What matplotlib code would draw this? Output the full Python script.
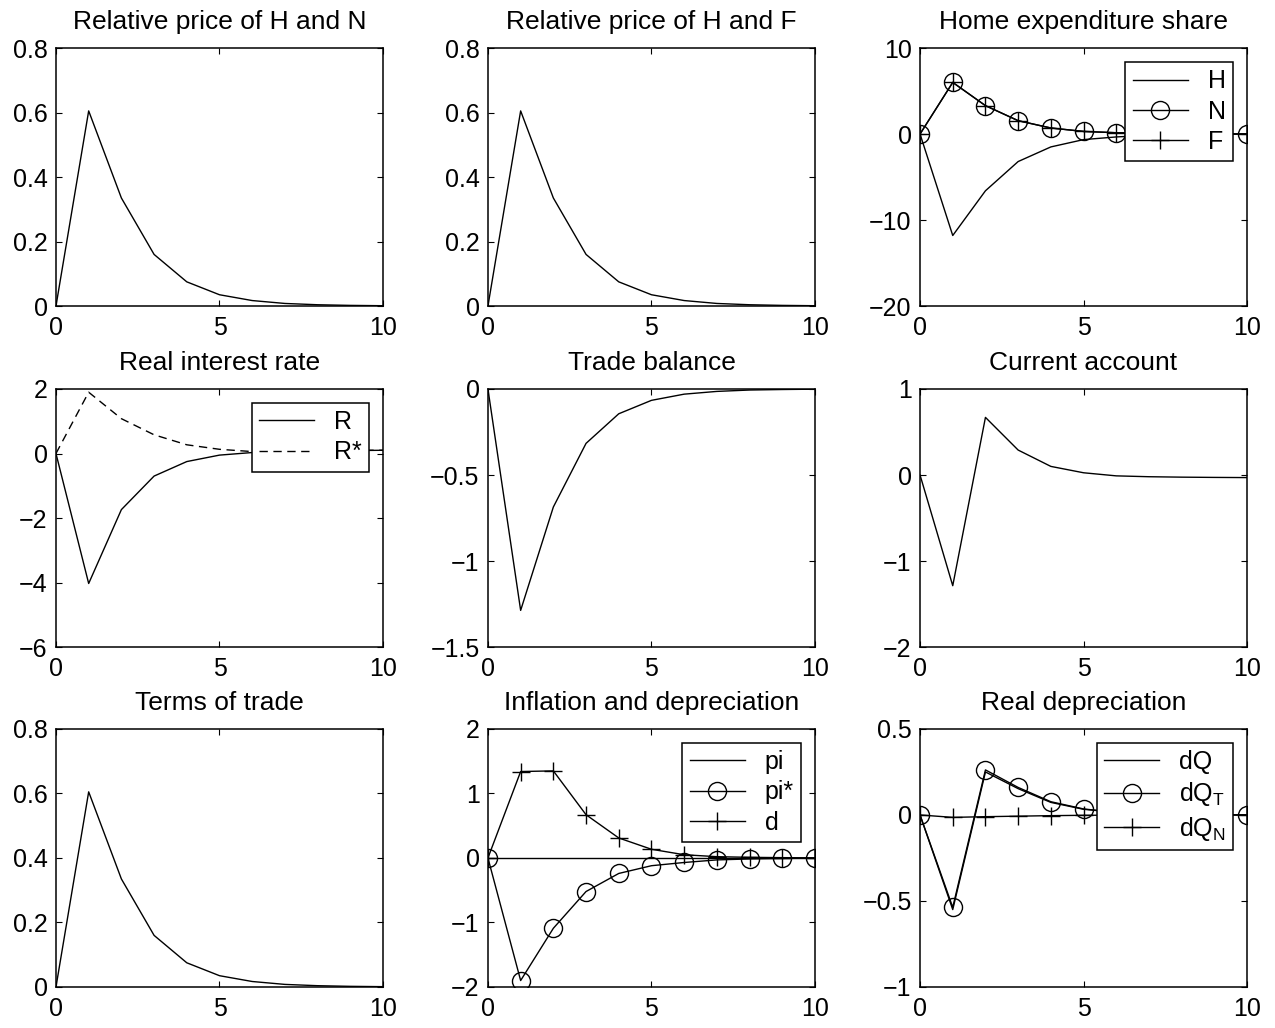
import numpy as np
import matplotlib
matplotlib.use("Agg")
import matplotlib.pyplot as plt

plt.rcParams['font.family'] = ['Liberation Sans', 'DejaVu Sans']
plt.rcParams['font.size'] = 18
plt.rcParams['mathtext.fontset'] = 'custom'
plt.rcParams['mathtext.rm'] = 'Liberation Sans'
plt.rcParams['mathtext.it'] = 'Liberation Sans'

# horizon
t = np.arange(11)

# relative prices / terms of trade (same response)
rel_price = [0, 0.605, 0.335, 0.16, 0.075, 0.035, 0.017, 0.008, 0.004, 0.002, 0.001]

# home expenditure share
share_H = [0, -11.8, -6.6, -3.2, -1.5, -0.65, -0.34, -0.15, -0.07, -0.03, 0]
share_N = [0, 6.0, 3.3, 1.55, 0.7, 0.3, 0.15, 0.07, 0.035, 0.015, 0]
share_F = [0, 6.0, 3.3, 1.55, 0.7, 0.3, 0.15, 0.07, 0.035, 0.015, 0]

# real interest rates
R = [0, -4.03, -1.74, -0.7, -0.25, -0.05, 0.03, 0.06, 0.08, 0.09, 0.1]
R_star = [0, 1.9, 1.08, 0.58, 0.27, 0.13, 0.06, 0.07, 0.09, 0.1, 0.1]

# trade balance, current account
tb = [0, -1.287, -0.686, -0.316, -0.144, -0.066, -0.03, -0.014, -0.006, -0.003, -0.001]
ca = [0, -1.287, 0.67, 0.29, 0.10, 0.026, -0.01, -0.02, -0.025, -0.028, -0.03]

# inflation and depreciation
pi = [0] * 11
pi_star = [0, -1.9, -1.09, -0.52, -0.24, -0.12, -0.07, -0.03, -0.015, -0.007, -0.003]
dep = [0, 1.34, 1.35, 0.67, 0.31, 0.135, 0.05, 0.02, 0.01, 0.005, 0.002]

# real depreciation
dQ = [0, -0.55, 0.25, 0.153, 0.073, 0.033, 0.015, 0.007, 0.003, 0.001, 0]
dQ_T = [0, -0.537, 0.262, 0.16, 0.077, 0.035, 0.015, 0.007, 0.003, 0.001, 0]
dQ_N = [0, -0.014, -0.01, -0.007, -0.004, -0.002, -0.001, 0, 0, 0, 0]

fig = plt.figure(figsize=(12.75, 10.28), dpi=100)

lefts = [0.0439, 0.3827, 0.7216]
bottoms = [0.7023, 0.3706, 0.0399]
w, h = 0.2565, 0.251

axes = []
for b in bottoms:
    for l in lefts:
        ax = fig.add_axes([l, b, w, h])
        ax.tick_params(direction='in', top=True, right=True, length=4, width=0.8)
        ax.tick_params(axis='x', pad=7)
        ax.tick_params(axis='y', pad=6)
        for s in ax.spines.values():
            s.set_linewidth(1.1)
        ax.set_xlim(0, 10)
        ax.set_xticks([0, 5, 10])
        axes.append(ax)

lw = 1.0
ms = 13
kw = dict(color='k', lw=lw)
leg_kw = dict(loc='upper right', fancybox=False, edgecolor='k', framealpha=1,
              numpoints=1, handlelength=2.2, borderaxespad=0.55, labelspacing=0.25,
              handletextpad=0.8, borderpad=0.3, fontsize=18)
title_kw = dict(fontsize=19, pad=14)


def fmt(ax):
    ax.legend(**leg_kw).get_frame().set_linewidth(1.1)


ax = axes[0]
ax.plot(t, rel_price, **kw)
ax.set_ylim(0, 0.8)
ax.set_yticks([0, 0.2, 0.4, 0.6, 0.8])
ax.set_yticklabels(['0', '0.2', '0.4', '0.6', '0.8'])
ax.set_title('Relative price of H and N', **title_kw)

ax = axes[1]
ax.plot(t, rel_price, **kw)
ax.set_ylim(0, 0.8)
ax.set_yticks([0, 0.2, 0.4, 0.6, 0.8])
ax.set_yticklabels(['0', '0.2', '0.4', '0.6', '0.8'])
ax.set_title('Relative price of H and F', **title_kw)

ax = axes[2]
ax.plot(t, share_H, label='H', **kw)
ax.plot(t, share_N, marker='o', mfc='none', mec='k', ms=ms, label='N', **kw)
ax.plot(t, share_F, marker='+', mec='k', ms=ms, mew=1.0, label='F', **kw)
ax.set_ylim(-20, 10)
ax.set_yticks([-20, -10, 0, 10])
ax.set_title('Home expenditure share', **title_kw)
fmt(ax)

ax = axes[3]
ax.plot(t, R, label='R', **kw)
ax.plot(t, R_star, ls=(0, (6, 4)), label='R*', **kw)
ax.set_ylim(-6, 2)
ax.set_yticks([-6, -4, -2, 0, 2])
ax.set_title('Real interest rate', **title_kw)
fmt(ax)

ax = axes[4]
ax.plot(t, tb, **kw)
ax.set_ylim(-1.5, 0)
ax.set_yticks([-1.5, -1, -0.5, 0])
ax.set_yticklabels(['\u22121.5', '\u22121', '\u22120.5', '0'])
ax.set_title('Trade balance', **title_kw)

ax = axes[5]
ax.plot(t, ca, **kw)
ax.set_ylim(-2, 1)
ax.set_yticks([-2, -1, 0, 1])
ax.set_title('Current account', **title_kw)

ax = axes[6]
ax.plot(t, rel_price, **kw)
ax.set_ylim(0, 0.8)
ax.set_yticks([0, 0.2, 0.4, 0.6, 0.8])
ax.set_yticklabels(['0', '0.2', '0.4', '0.6', '0.8'])
ax.set_title('Terms of trade', **title_kw)

ax = axes[7]
ax.plot(t, pi, label='pi', **kw)
ax.plot(t, pi_star, marker='o', mfc='none', mec='k', ms=ms, label='pi*', **kw)
ax.plot(t, dep, marker='+', mec='k', ms=ms, mew=1.0, label='d', **kw)
ax.set_ylim(-2, 2)
ax.set_yticks([-2, -1, 0, 1, 2])
ax.set_title('Inflation and depreciation', **title_kw)
fmt(ax)

ax = axes[8]
ax.plot(t, dQ, label='dQ', **kw)
ax.plot(t, dQ_T, marker='o', mfc='none', mec='k', ms=ms, label='dQ$_\\mathregular{T}$', **kw)
ax.plot(t, dQ_N, marker='+', mec='k', ms=ms, mew=1.0, label='dQ$_\\mathregular{N}$', **kw)
ax.set_ylim(-1, 0.5)
ax.set_yticks([-1, -0.5, 0, 0.5])
ax.set_yticklabels(['\u22121', '\u22120.5', '0', '0.5'])
ax.set_title('Real depreciation', **title_kw)
fmt(ax)

fig.savefig('out.png', dpi=100)
